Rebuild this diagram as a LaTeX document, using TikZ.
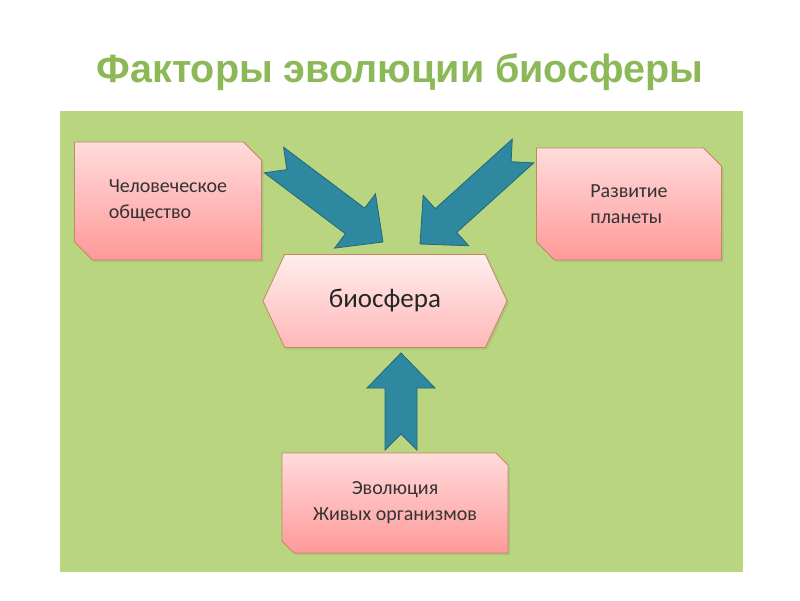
\documentclass[tikz,border=0pt]{standalone}
\usepackage{fontspec}
\setmainfont{Carlito}
\newfontfamily\titlefont{Liberation Sans}
\usepackage{tikz}
\usetikzlibrary{calc,shapes.misc,shapes.symbols,shadows}

\definecolor{leaf}{HTML}{B9D57F}
\definecolor{titlegreen}{HTML}{8CB858}
\definecolor{sea}{HTML}{2E88A0}
\definecolor{seadark}{HTML}{22687A}
\definecolor{rim}{HTML}{C08A5E}

\tikzset{
  factor/.style={chamfered rectangle, chamfered rectangle corners={north east,south west},
    chamfered rectangle xsep=9pt, chamfered rectangle ysep=9pt,
    draw=rim, line width=0.8pt, top color=red!14, bottom color=red!40,
    drop shadow={opacity=0.2, shadow xshift=2pt, shadow yshift=-2pt},
    font=\fontsize{20}{26}\selectfont, text=black!80, inner sep=0pt},
  core/.style={signal, signal to=west and east, signal pointer angle=130,
    draw=rim, line width=0.8pt, top color=red!7, bottom color=red!28,
    drop shadow={opacity=0.2, shadow xshift=2pt, shadow yshift=-2pt},
    font=\fontsize{27}{30}\selectfont, text=black!85, inner sep=0pt},
  fatarrow/.style={fill=sea, draw=seadark, line width=0.8pt, line join=miter}
}

% thick notched arrow from #1 (tail) to #2 (tip)
\newcommand{\bigarrow}[2]{%
  \draw[fatarrow] (#2)
    -- ($(#2)!35pt!(#1)!34pt!90:(#1)$)
    -- ($(#2)!35pt!(#1)!16pt!90:(#1)$)
    -- ($(#1)!16pt!-90:(#2)$)
    -- ($(#1)!16pt!(#2)$)
    -- ($(#1)!16pt!90:(#2)$)
    -- ($(#2)!35pt!(#1)!16pt!-90:(#1)$)
    -- ($(#2)!35pt!(#1)!34pt!-90:(#1)$)
    -- cycle;}

\begin{document}
\begin{tikzpicture}[x=1pt,y=-1pt]
  \useasboundingbox[fill=white] (0,0) rectangle (800,600);
  \fill[leaf] (60,111) rectangle (743,572);

  \node[font=\titlefont\bfseries\fontsize{39.5}{44}\selectfont, text=titlegreen]
    (title) at (400,72) {Факторы эволюции биосферы};

  \node[factor, minimum width=187pt, minimum height=118pt, align=left]
    (society) at (168,201) {Человеческое\\общество};
  \node[factor, minimum width=185pt, minimum height=112pt, align=left]
    (planet) at (629,204) {Развитие\\планеты};
  \node[factor, minimum width=226pt, minimum height=100pt, align=center,
        chamfered rectangle xsep=6pt, chamfered rectangle ysep=6pt]
    (life) at (395,503) {Эволюция\\Живых организмов};
  \node[core, minimum width=244pt, minimum height=93pt]
    (bio) at (385,301) {биосфера};

  % arrow ends
  \coordinate (s1) at (274,160);
  \coordinate (t1) at (383,242);
  \coordinate (s2) at (523,151);
  \coordinate (t2) at (420,244);
  \coordinate (s3) at (401,450);
  \coordinate (t3) at (401,353);

  \bigarrow{s1}{t1}
  \bigarrow{s2}{t2}
  \bigarrow{s3}{t3}
\end{tikzpicture}
\end{document}
